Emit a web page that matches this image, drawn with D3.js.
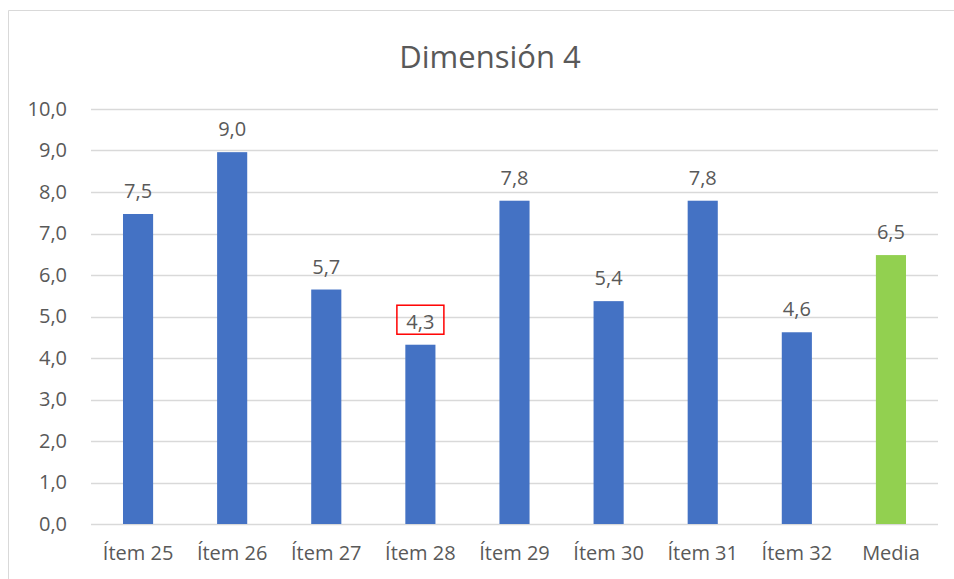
<!DOCTYPE html>
<html>
<head>
<meta charset="utf-8">
<script src="https://cdn.jsdelivr.net/npm/d3@7"></script>
<style>
body { margin:0; background:#fff; }
text { font-family: "Open Sans", "Noto Sans", sans-serif; fill:#595959; }
</style>
</head>
<body>
<svg id="chart"></svg>
<script>
var categories = ["Ítem 25","Ítem 26","Ítem 27","Ítem 28","Ítem 29","Ítem 30","Ítem 31","Ítem 32","Media"];
var values = [7.47, 8.96, 5.65, 4.32, 7.79, 5.37, 7.79, 4.62, 6.48];
var yTicks = [0,1,2,3,4,5,6,7,8,9,10];
var highlighted = "Ítem 28";

var screen = {width:954, height:579};
var margins = {top:109, bottom:55, left:91, right:16};
var graph = {
    width:screen.width-margins.left-margins.right,
    height:screen.height-margins.top-margins.bottom
};

var svg = d3.select("#chart")
    .attr("width",screen.width)
    .attr("height",screen.height);

// chart frame
svg.append("path")
    .attr("d","M8.5,579 V10.5 H954")
    .attr("fill","none")
    .attr("stroke","#d9d9d9");

svg.append("text")
    .attr("x",490)
    .attr("y",68)
    .attr("text-anchor","middle")
    .style("font-size","31px")
    .text("Dimensión 4");

var xScale = d3.scaleBand()
    .domain(categories)
    .range([0,graph.width])
    .paddingInner(0.68)
    .paddingOuter(0.34);

var yScale = d3.scaleLinear()
    .domain([0,10])
    .range([graph.height,0]);

var g = svg.append("g")
    .attr("transform","translate("+margins.left+","+margins.top+")");

// gridlines
g.selectAll("line.grid")
    .data(yTicks)
    .enter()
    .append("line")
    .classed("grid",true)
    .attr("x1",0)
    .attr("x2",graph.width)
    .attr("y1",function(d){return Math.round(yScale(d))+0.5;})
    .attr("y2",function(d){return Math.round(yScale(d))+0.5;})
    .attr("stroke","#d9d9d9")
    .attr("stroke-width",1.3);

var yAxis = d3.axisLeft(yScale)
    .tickValues(yTicks)
    .tickSize(0)
    .tickPadding(24)
    .tickFormat(function(d){return d3.format(".1f")(d).replace(".",",");});

var ya = g.append("g").call(yAxis);
ya.select(".domain").remove();
ya.selectAll("text").style("font-size","20px").attr("fill","#595959");

var xAxis = d3.axisBottom(xScale).tickSize(0).tickPadding(22);
var xa = g.append("g")
    .attr("transform","translate(0,"+graph.height+")")
    .call(xAxis);
xa.select(".domain").remove();
xa.selectAll("text").style("font-size","20px").attr("fill","#595959");

g.selectAll("rect.bar")
    .data(values)
    .enter()
    .append("rect")
    .classed("bar",true)
    .attr("x",function(d,i){return xScale(categories[i]);})
    .attr("y",function(d){return yScale(d);})
    .attr("width",xScale.bandwidth())
    .attr("height",function(d){return graph.height-yScale(d);})
    .attr("fill",function(d,i){return categories[i]=="Media" ? "#92d050" : "#4472c4";});

var labels = g.selectAll("g.label")
    .data(values)
    .enter()
    .append("g")
    .classed("label",true)
    .attr("transform",function(d,i)
    {
        return "translate("+(xScale(categories[i])+xScale.bandwidth()/2)+","+(yScale(d)-16)+")";
    });

labels.filter(function(d,i){return categories[i]==highlighted;})
    .append("rect")
    .attr("x",-23.5)
    .attr("y",-23.5)
    .attr("width",47)
    .attr("height",29)
    .attr("fill","none")
    .attr("stroke","#ff0000")
    .attr("stroke-width",1.5);

labels.append("text")
    .attr("text-anchor","middle")
    .style("font-size","20px")
    .text(function(d){return d3.format(".1f")(d).replace(".",",");});
</script>
</body>
</html>
